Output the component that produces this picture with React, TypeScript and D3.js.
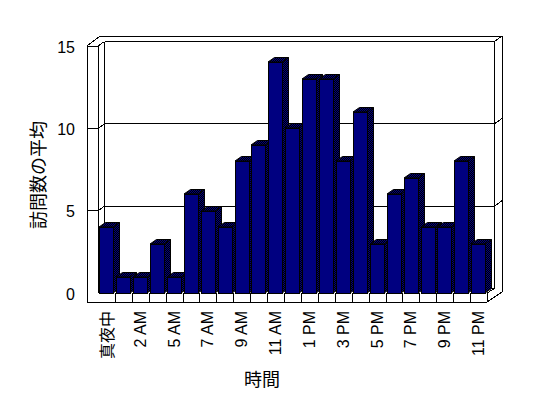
import React from 'react';
import * as d3 from 'd3';

const hours = [
  '真夜中', '1 AM', '2 AM', '3 AM', '5 AM', '6 AM', '7 AM', '8 AM', '9 AM', '10 AM', '11 AM', '正午',
  '1 PM', '2 PM', '3 PM', '4 PM', '5 PM', '6 PM', '7 PM', '8 PM', '9 PM', '10 PM', '11 PM',
];
const visits = [4, 1, 1, 3, 1, 6, 5, 4, 8, 9, 14, 10, 13, 13, 8, 11, 3, 6, 7, 4, 4, 8, 3];
const yTicks = [0, 5, 10, 15];

const W = 548;
const H = 398;
// front plane of the box and the depth offset to the back wall
const left = 98, right = 487, base = 293, top = 46;
const dx = 6.5, dy = -4.5;
const wallX = 87, floorY = 302;
const outerX = 502, outerTop = 36;

const font = '"Liberation Sans", Arial, sans-serif';
const cjk = '"Noto Sans CJK JP", sans-serif';

const App: React.FC = () => {
  const x = d3.scaleBand<string>().domain(hours).range([left, right]).paddingInner(0).paddingOuter(0);
  const y = d3.scaleLinear().domain([0, 15]).range([base, top]);
  const bw = x.bandwidth();

  const ln = (x1: number, y1: number, x2: number, y2: number, k: string) => (
    <line key={k} x1={x1} y1={y1} x2={x2} y2={y2} stroke="#000" strokeWidth={1} />
  );

  const backL = left + dx, backR = right + dx + 1;

  const frame: JSX.Element[] = [];
  frame.push(ln(wallX, top, wallX, floorY, 'wo'));
  frame.push(ln(left, top, left, base, 'wi'));
  frame.push(ln(wallX, top, 100, outerTop, 'dlo'));
  frame.push(ln(100, outerTop, outerX, outerTop, 'to'));
  frame.push(ln(backL, y(15) + dy, backL, base + dy, 'bl'));
  frame.push(ln(backR, y(15) + dy, backR, base + dy, 'br'));
  frame.push(ln(backR, base + dy, right, base, 'brd'));
  frame.push(ln(outerX, outerTop, outerX, floorY - 10, 'ro'));
  frame.push(ln(outerX, floorY - 10, right, floorY, 'rod'));
  frame.push(ln(backL, base + dy, backR, base + dy, 'fb'));
  [5, 10, 15].forEach((v) => {
    const yf = y(v), yb = y(v) + dy;
    frame.push(ln(wallX, yf, left, yf, 'gf' + v));
    frame.push(ln(left, yf, backL, yb, 'gd' + v));
    frame.push(ln(backL, yb, backR, yb, 'gb' + v));
    frame.push(ln(backR, yb, outerX, yb - 5.5, 'gr' + v));
  });

  // floor front face with category ticks
  const floor: JSX.Element[] = [];
  floor.push(ln(wallX, floorY, right, floorY, 'ff'));
  floor.push(ln(right, base, right, floorY, 'fr'));
  hours.slice(1).forEach((h, i) => {
    const xx = Math.round(x(h)!) + 0.5;
    floor.push(ln(xx, base, xx, floorY, 'ft' + i));
  });

  return (
    <svg
      width={W}
      height={H}
      style={{ position: 'absolute', left: 0, top: 0, background: '#fff' }}
      shapeRendering="crispEdges"
    >
      <defs>
        <pattern id="dither" width={2} height={2} patternUnits="userSpaceOnUse">
          <rect width={2} height={2} fill="#000" />
          <rect x={0} y={0} width={1} height={1} fill="#000080" />
          <rect x={1} y={1} width={1} height={1} fill="#000080" />
        </pattern>
      </defs>
      <rect width={W} height={H} fill="#fff" />
      <g>{frame}</g>
      <g>{floor}</g>
      <g>
        {hours.map((h, i) => {
          const x0 = Math.round(x(h)! + 1.2);
          const x1 = x0 + 14;
          const yt = Math.round(y(visits[i]));
          return (
            <g key={h} shapeRendering="geometricPrecision">
              <polygon
                points={`${x1},${yt} ${x1 + dx},${yt + dy} ${x1 + dx},${base + dy} ${x1},${base}`}
                fill="url(#dither)"
                stroke="#000"
                strokeWidth={1}
              />
              <polygon
                points={`${x0},${yt} ${x0 + dx},${yt + dy} ${x1 + dx},${yt + dy} ${x1},${yt}`}
                fill="url(#dither)"
                stroke="#000"
                strokeWidth={1}
              />
              <rect
                x={x0 + 0.5}
                y={yt + 0.5}
                width={x1 - x0}
                height={base - yt}
                fill="#000080"
                stroke="#000"
                strokeWidth={1}
                shapeRendering="crispEdges"
              />
            </g>
          );
        })}
      </g>
      <g fontFamily={font} fontSize={16} fill="#000">
        {yTicks.map((v) => (
          <text key={v} x={75} y={y(v) + 1} textAnchor="end" dominantBaseline="central">
            {v}
          </text>
        ))}
        {hours.map((h, i) =>
          i % 2 === 0 ? (
            <text
              key={h}
              transform={`translate(${x(h)! + bw / 2},${311}) rotate(-90)`}
              textAnchor="end"
              dominantBaseline="central"
              fontFamily={/[A-Z0-9]/.test(h) ? font : cjk}
            >
              {h}
            </text>
          ) : null
        )}
      </g>
      <text
        transform={`translate(37,175) rotate(-90)`}
        textAnchor="middle"
        dominantBaseline="central"
        fontFamily={cjk}
        fontSize={18}
      >
        訪問数の平均
      </text>
      <text x={262} y={378} textAnchor="middle" dominantBaseline="central" fontFamily={cjk} fontSize={18}>
        時間
      </text>
    </svg>
  );
};

export default App;
